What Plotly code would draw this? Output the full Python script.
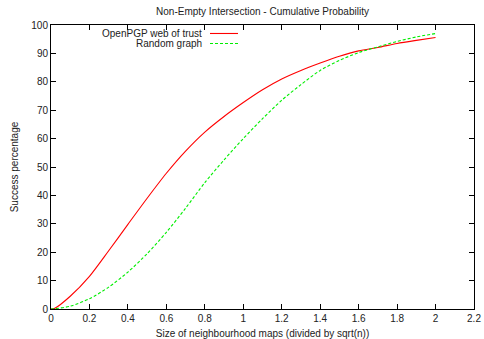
import plotly.graph_objects as go

x_vals = [0.0, 0.02, 0.1, 0.2, 0.3, 0.4, 0.5, 0.6, 0.7, 0.8, 0.9, 1.0, 1.1, 1.2, 1.3, 1.4, 1.5, 1.6, 1.7, 1.8, 1.9, 2.0]
openpgp = [0.0, 0.3, 4.5, 11.5, 20.5, 29.8, 39.0, 47.8, 55.6, 62.3, 67.8, 72.7, 77.2, 81.0, 84.0, 86.6, 89.0, 90.9, 92.1, 93.5, 94.6, 95.6]
random_graph = [0.0, 0.1, 1.0, 3.6, 7.7, 13.0, 19.5, 27.0, 35.5, 44.5, 52.5, 60.0, 67.0, 73.5, 79.0, 84.0, 87.5, 90.3, 92.3, 94.2, 95.8, 97.0]

x_ticks = [0, 0.2, 0.4, 0.6, 0.8, 1, 1.2, 1.4, 1.6, 1.8, 2, 2.2]
x_tick_text = ["0", "0.2", "0.4", "0.6", "0.8", "1", "1.2", "1.4", "1.6", "1.8", "2", "2.2"]
y_ticks = [0, 10, 20, 30, 40, 50, 60, 70, 80, 90, 100]

series_names = ["OpenPGP web of trust", "Random graph"]
colors = ["#ff0000", "#00ee00"]
dashes = ["solid", "3px,2px"]

W, H = 484, 339
L, R, T, B = 51, 10, 25, 29.5
pw = W - L - R
ph = H - T - B

fig = go.Figure()
for ys, name, c, d in zip([openpgp, random_graph], series_names, colors, dashes):
    fig.add_trace(go.Scatter(x=x_vals, y=ys, mode="lines", name=name,
                             line=dict(color=c, width=1.1, dash=d, shape="spline", smoothing=0.8),
                             showlegend=False))

font = dict(family="Liberation Sans, Arial, sans-serif", size=10, color="#222222")

# manual gnuplot-style key (text right aligned, sample to the right)
for i, (name, c, d) in enumerate(zip(series_names, colors, dashes)):
    ypix = 33.5 + i * 10
    yp = (H - B - ypix) / ph
    fig.add_annotation(text=name, x=(204 - L) / pw, y=yp, xref="paper", yref="paper",
                       xanchor="right", yanchor="middle", showarrow=False, font=font)
    fig.add_shape(type="line", xref="paper", yref="paper",
                  x0=(210 - L) / pw, x1=(238 - L) / pw, y0=yp, y1=yp,
                  line=dict(color=c, width=1.1, dash=d))

axis_common = dict(showline=True, linecolor="black", linewidth=1, mirror="ticks",
                   ticks="inside", ticklen=5, tickcolor="black", tickwidth=1,
                   showgrid=False, zeroline=False, tickfont=font, automargin=False)

fig.update_layout(
    width=W, height=H,
    margin=dict(l=L, r=R, t=T, b=B),
    paper_bgcolor="white", plot_bgcolor="white",
    title=dict(text="Non-Empty Intersection - Cumulative Probability", x=(L + pw / 2) / W,
               xanchor="center", y=1 - 11 / H, yanchor="middle", font=font),
    xaxis=dict(range=[0, 2.2], tickvals=x_ticks, ticktext=x_tick_text,
               title=dict(text="Size of neighbourhood maps (divided by sqrt(n))", font=font, standoff=6),
               **axis_common),
    yaxis=dict(range=[0, 100], tickvals=y_ticks,
               title=dict(text="Success percentage", font=font, standoff=10),
               **axis_common),
)

fig.write_html("out.html", config={"displayModeBar": False},
               post_script="document.body.style.margin='0px';")
